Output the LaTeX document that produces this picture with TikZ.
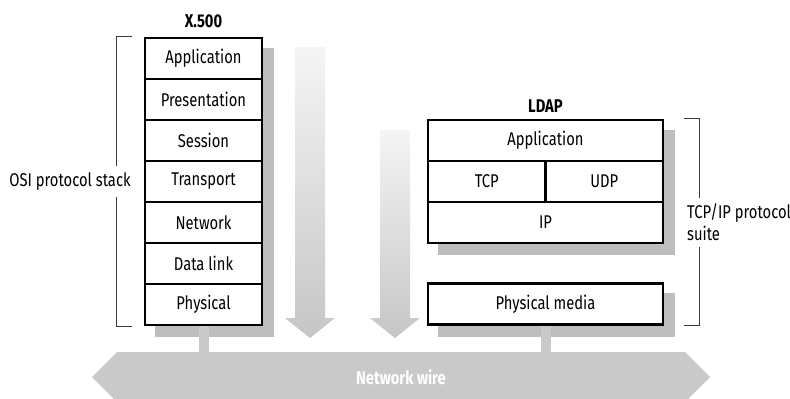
\documentclass[tikz,border=0pt]{standalone}
\usepackage{fontspec}
\setmainfont{Fira Sans}[FakeStretch=0.8]
\usetikzlibrary{shapes, arrows, backgrounds}
\definecolor{shadowcol}{HTML}{BEBEBE}
\definecolor{wirecol}{HTML}{C9C9C9}
\definecolor{bracketcol}{HTML}{3A3A3A}
\tikzstyle{layer} = [rectangle, minimum width=2.34cm, minimum height=0.82cm, inner sep=0pt, text centered, draw=black, line width=1.2pt, fill=white]
\tikzstyle{wide} = [layer, minimum width=4.7cm]
\tikzstyle{half} = [layer, minimum width=2.35cm]
\tikzstyle{title} = [font=\fontsize{10.5}{12}\selectfont\bfseries]
\tikzstyle{bracket} = [draw=bracketcol, line width=0.6pt]
\tikzstyle{shadow} = [fill=shadowcol]
\tikzstyle{stub} = [draw=wirecol, line width=0.2cm]
\tikzstyle{flow} = [top color=gray!8, bottom color=gray!45]
\tikzstyle{wirearrow} = [double arrow, double arrow head extend=0cm, minimum height=12.36cm, minimum width=1cm, inner sep=0pt, fill=wirecol, text=white, font=\fontsize{10.5}{12}\selectfont\bfseries]

\begin{document}
\begin{tikzpicture}[node distance=0.82cm, every node/.style={font=\fontsize{10.5}{12.5}\selectfont}, align=center]
\useasboundingbox (0,0) rectangle (15.8,-7.96);

%X.500 stack
\node (app1) [layer] at (4.07,-1.17) {Application};
\node (pres) [layer, below of=app1] {Presentation};
\node (sess) [layer, below of=pres] {Session};
\node (trans) [layer, below of=sess] {Transport};
\node (net) [layer, below of=trans] {Network};
\node (dlink) [layer, below of=net] {Data link};
\node (phys1) [layer, below of=dlink] {Physical};
\node (x500) [title, above of=app1, yshift=-0.07cm] {X.500};

%LDAP suite
\node (app2) [wide] at (10.91,-2.81) {Application};
\node (tcp) [half, below of=app2, xshift=-1.175cm] {TCP};
\node (udp) [half, right of=tcp, node distance=2.35cm] {UDP};
\node (ip) [wide, below of=tcp, xshift=1.175cm] {IP};
\node (media) [wide, below of=ip, yshift=-0.81cm] {Physical media};
\node (ldap) [title, above of=app2, yshift=-0.13cm] {LDAP};

%Side labels
\node (osi) [left of=trans, node distance=2.67cm] {OSI protocol stack};
\node (suite) [anchor=west, align=left, inner xsep=1pt] at ([xshift=0.42cm]ip.east) {TCP/IP protocol\\suite};

\coordinate (ositop) at ([xshift=-0.54cm]app1.north west);
\coordinate (osibot) at ([xshift=-0.54cm]phys1.south west);
\draw [bracket] ([xshift=-0.24cm]app1.north west) -- (ositop) -- (ositop |- osi.north);
\draw [bracket] (osibot |- osi.south) -- (osibot) -- ([xshift=-0.24cm]phys1.south west);

\coordinate (suitetop) at ([xshift=0.7cm]app2.north east);
\coordinate (suitebot) at ([xshift=0.7cm]media.south east);
\draw [bracket] ([xshift=0.4cm]app2.north east) -- (suitetop) -- (suitetop |- suite.north);
\draw [bracket] (suitebot |- suite.south) -- (suitebot) -- ([xshift=0.4cm]media.south east);

%Network wire
\node (wire) [wirearrow] at (8.02,-7.54) {Network wire};

\begin{scope}[on background layer]
%Shadows
\fill [shadow] ([shift={(0.22,-0.22)}]app1.north west) rectangle ([shift={(0.22,-0.22)}]phys1.south east);
\fill [shadow] ([shift={(0.22,-0.22)}]app2.north west) rectangle ([shift={(0.22,-0.22)}]ip.south east);
\fill [shadow] ([shift={(0.22,-0.22)}]media.north west) rectangle ([shift={(0.22,-0.22)}]media.south east);
%Stubs to the wire
\draw [stub] (phys1.south) -- (phys1.south |- wire.north);
\draw [stub] (media.south) -- (media.south |- wire.north);
%Down arrows
\shade [flow] (5.9,-0.94) -- (6.5,-0.94) -- (6.5,-6.36) -- (6.7,-6.36) -- (6.2,-6.76) -- (5.7,-6.36) -- (5.9,-6.36) -- cycle;
\shade [flow] (7.6,-2.6) -- (8.2,-2.6) -- (8.2,-6.36) -- (8.4,-6.36) -- (7.9,-6.76) -- (7.4,-6.36) -- (7.6,-6.36) -- cycle;
\end{scope}
\end{tikzpicture}
\end{document}
